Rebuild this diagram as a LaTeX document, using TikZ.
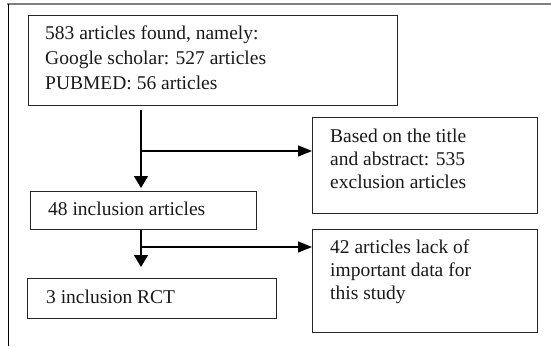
\documentclass[tikz,border=0pt]{standalone}
\usepackage{fontspec}
\setmainfont{Liberation Serif}
\usetikzlibrary{arrows.meta}
\begin{document}
\begin{tikzpicture}[x=1pt,y=1pt,
  boxnode/.style={draw=black!85, line width=1.1pt, inner sep=0pt, minimum width=#1},
  txt/.style={inner sep=0pt, align=left, font=\fontsize{19.5}{25}\selectfont, text=black!90},
  txtb/.style={inner sep=0pt, align=left, font=\fontsize{19.5}{22.8}\selectfont, text=black!90},
  varrow/.style={line width=1.2pt, -{Triangle[length=12pt,width=14pt]}},
  harrow/.style={line width=1.2pt, -{Triangle[length=14pt,width=11pt]}}]
\useasboundingbox (0,0) rectangle (551,-346);
% frame
\draw[line width=1.5pt, black!50] (7,-4) -- (551,-4);
\draw[line width=1pt, black] (8,-4) -- (8,-346);
% boxes
\node[boxnode=369pt, minimum height=90pt, anchor=north west] (b1) at (28,-15) {};
\node[boxnode=226pt, minimum height=38pt, anchor=north west] (b2) at (30,-191) {};
\node[boxnode=249pt, minimum height=40pt, anchor=north west] (b3) at (27,-278) {};
\node[boxnode=225pt, minimum height=96pt, anchor=north west] (e1) at (312,-117) {};
\node[boxnode=225pt, minimum height=103pt, anchor=north west] (e2) at (312,-229) {};
% texts
\node[txt, anchor=base west] (t1) at (45,-89) {583 articles found, namely:\\Google scholar: 527 articles\\PUBMED: 56 articles};
\node[txt, anchor=base west] (t2) at (48,-215) {48 inclusion articles};
\node[txt, anchor=base west] (t3) at (46,-303) {3 inclusion RCT};
\node[txtb, anchor=base west] (t4) at (330,-188) {Based on the title\\and abstract: 535\\exclusion articles};
\node[txtb, anchor=base west] (t5) at (330,-299) {42 articles lack of\\important data for\\this study};
% connectors
\coordinate (s1) at (141,-110);
\coordinate (j1) at (141,-151);
\coordinate (j2) at (141,-247);
\draw[varrow, shorten >=3pt] (s1) -- (s1 |- b2.north);
\draw[harrow] (j1) -- (j1 -| e1.west);
\draw[varrow, shorten >=11pt] (s1 |- b2.south) -- (s1 |- b3.north);
\draw[harrow] (j2) -- (j2 -| e2.west);
\end{tikzpicture}
\end{document}
